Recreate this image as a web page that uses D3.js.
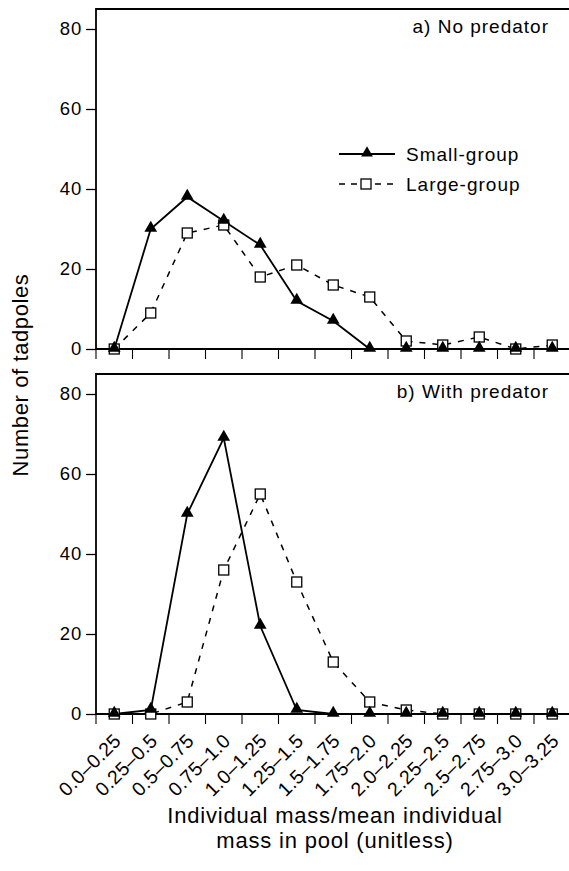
<!DOCTYPE html>
<html><head><meta charset="utf-8">
<script src="https://cdn.jsdelivr.net/npm/d3@7"></script>
<style>
html,body{margin:0;padding:0;background:#fff;}
svg{display:block;}
text{font-family:"Liberation Sans",Arial,Helvetica,sans-serif;fill:#000;}
</style></head>
<body>
<svg id="c" width="569" height="871"></svg>
<script>
const categories = ["0.0–0.25","0.25–0.5","0.5–0.75","0.75–1.0","1.0–1.25","1.25–1.5","1.5–1.75","1.75–2.0","2.0–2.25","2.25–2.5","2.5–2.75","2.75–3.0","3.0–3.25"];
const smallNoPred = [0,30,38,32,26,12,7,0,0,0,0,0,0];
const largeNoPred = [0,9,29,31,18,21,16,13,2,1,3,0,1];
const smallPred   = [0,1,50,69,22,1,0,0,0,0,0,0,0];
const largePred   = [0,0,3,36,55,33,13,3,1,0,0,0,0];
const yTicks = [0,20,40,60,80];
const panelTitles = ["a) No predator","b) With predator"];
const seriesNames = ["Small-group","Large-group"];

const svg = d3.select("#c");
const left = 96, right = 570.5;
const x = d3.scaleBand().domain(categories).range([left, right]);

const panels = [
  {top: 9, bottom: 349, small: smallNoPred, large: largeNoPred, title: panelTitles[0], legend: true},
  {top: 374, bottom: 714, small: smallPred, large: largePred, title: panelTitles[1], legend: false}
];

function triangle(g, cx, cy, s){
  g.append("path").attr("d", d3.symbol(d3.symbolTriangle, s)()).attr("transform", `translate(${cx},${cy-1})`).attr("fill","#000");
}
function square(g, cx, cy){
  g.append("rect").attr("x", cx-5).attr("y", cy-5).attr("width",10).attr("height",10)
   .attr("fill","#fff").attr("stroke","#000").attr("stroke-width",1.3);
}

panels.forEach((p, i) => {
  const y = d3.scaleLinear().domain([0,85]).range([p.bottom, p.top]);
  const g = svg.append("g");
  g.append("path").attr("d", `M${left},${p.bottom}V${p.top}H569`).attr("fill","none").attr("stroke","#000").attr("stroke-width",1.8);
  const ya = g.append("g").attr("transform", `translate(${left},0)`).call(d3.axisLeft(y).tickValues(yTicks).tickSize(10).tickPadding(4));
  ya.select(".domain").remove();
  ya.selectAll("line").attr("stroke-width",1.3);
  ya.selectAll("text").style("font-size","18.5px").style("letter-spacing","0.8px").attr("fill","#000");
  g.append("line").attr("x1",left).attr("x2",569).attr("y1",p.bottom).attr("y2",p.bottom).attr("stroke","#000").attr("stroke-width",1.8);
  const xa = g.append("g").attr("transform", `translate(0,${p.bottom})`)
    .call(d3.axisBottom(x).tickSize(10).tickFormat(""));
  xa.select(".domain").remove();
  xa.selectAll(".tick").attr("transform", d => `translate(${x(d)},0)`);
  xa.selectAll("line").attr("stroke-width",1.1);
  const cx = c => x(c) + x.bandwidth()/2;
  const line = d3.line().x((d,k)=>cx(categories[k])).y(d=>y(d));
  g.append("path").datum(p.large).attr("d", line).attr("fill","none").attr("stroke","#000").attr("stroke-width",1.5).attr("stroke-dasharray","6,7");
  g.append("path").datum(p.small).attr("d", line).attr("fill","none").attr("stroke","#000").attr("stroke-width",1.8);
  p.large.forEach((v,k)=>square(g, cx(categories[k]), y(v)));
  p.small.forEach((v,k)=>triangle(g, cx(categories[k]), y(v), 70));
  g.append("text").attr("x",549).attr("y",p.top+24).attr("text-anchor","end").style("font-size","19px").style("letter-spacing","1px").text(p.title);
  if (p.legend){
    g.append("line").attr("x1",339).attr("x2",395).attr("y1",154).attr("y2",154).attr("stroke","#000").attr("stroke-width",1.8);
    triangle(g, 367, 154, 60);
    g.append("text").attr("x",406).attr("y",161).style("font-size","19px").style("letter-spacing","1px").text(seriesNames[0]);
    g.append("line").attr("x1",339).attr("x2",395).attr("y1",184).attr("y2",184).attr("stroke","#000").attr("stroke-width",1.5).attr("stroke-dasharray","6,6");
    square(g, 366, 184);
    g.append("text").attr("x",406).attr("y",191).style("font-size","19px").style("letter-spacing","1px").text(seriesNames[1]);
  }
  if (i===1){
    categories.forEach(c => {
      g.append("text").attr("transform", `translate(${cx(c)+8},${p.bottom+28}) rotate(-45)`)
        .attr("text-anchor","end").style("font-size","19.5px").style("letter-spacing","0.3px").text(c);
    });
  }
});

svg.append("text").attr("transform","translate(28,375) rotate(-90)").attr("text-anchor","middle").style("font-size","22px").style("letter-spacing","0.6px").text("Number of tadpoles");
svg.append("text").attr("x",335).attr("y",823).attr("text-anchor","middle").style("font-size","22px").style("letter-spacing","0.8px").text("Individual mass/mean individual");
svg.append("text").attr("x",335).attr("y",848).attr("text-anchor","middle").style("font-size","22px").style("letter-spacing","0.8px").text("mass in pool (unitless)");
</script>
</body></html>
